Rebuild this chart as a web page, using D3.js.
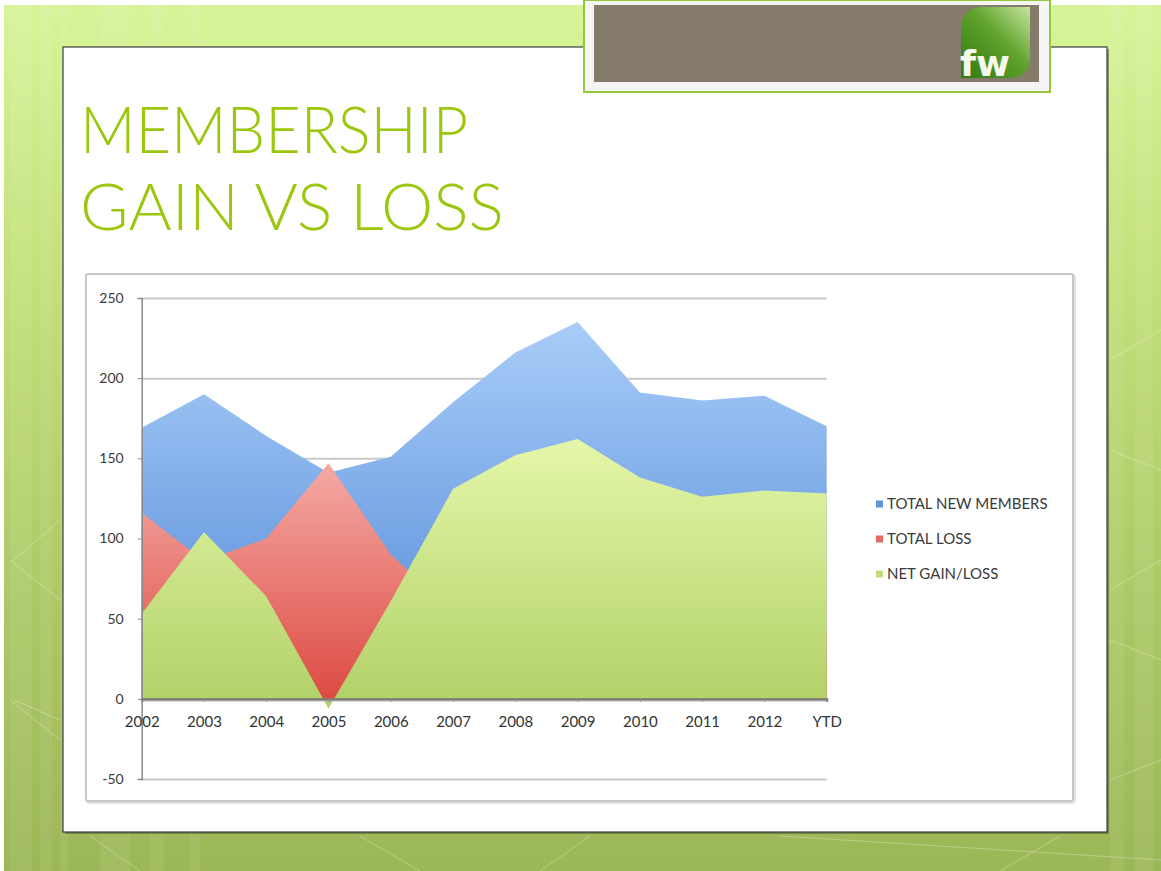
<!DOCTYPE html>
<html>
<head>
<meta charset="utf-8">
<script src="https://cdn.jsdelivr.net/npm/d3@7"></script>
<style>
body { margin: 0; background: #fff; }
svg { display: block; }
</style>
</head>
<body>
<svg width="1161" height="871"></svg>
<script>
// data
var years = ["2002", "2003", "2004", "2005", "2006", "2007", "2008", "2009", "2010", "2011", "2012", "YTD"];
var newMembers = [169, 190, 164, 141, 151, 185, 216, 235, 191, 186, 189, 170];
var totalLoss  = [116,  86, 100, 147,  90,  54,  64,  73,  53,  60,  59,  42];
var netGain    = [ 53, 104,  64,  -6,  61, 131, 152, 162, 138, 126, 130, 128];
var yTicks = [-50, 0, 50, 100, 150, 200, 250];
var seriesNames = ["TOTAL NEW MEMBERS", "TOTAL LOSS", "NET GAIN/LOSS"];

var svg = d3.select("svg");
var defs = svg.append("defs");

// ---- slide background ----
var bg = defs.append("linearGradient").attr("id", "bg")
    .attr("x1", 0).attr("y1", 0).attr("x2", 0).attr("y2", 1);
bg.append("stop").attr("offset", "0%").attr("stop-color", "#d7f499");
bg.append("stop").attr("offset", "30%").attr("stop-color", "#c4e17b");
bg.append("stop").attr("offset", "70%").attr("stop-color", "#acc866");
bg.append("stop").attr("offset", "100%").attr("stop-color", "#9cb757");

svg.append("rect").attr("x", 4).attr("y", 5).attr("width", 1157).attr("height", 866)
    .attr("fill", "url(#bg)");

// light vertical bands
[[10, 22], [40, 12], [60, 8], [100, 30], [150, 14], [190, 10], [1110, 14], [1135, 18]].forEach(function(b) {
  svg.append("rect").attr("x", b[0]).attr("y", 5).attr("width", b[1]).attr("height", 866)
      .attr("fill", "#fff").attr("opacity", 0.07);
});

// faint background lines
var bgLines = svg.append("g").attr("stroke", "#fff").attr("stroke-opacity", 0.3).attr("fill", "none");
[[1110, 360, 1161, 330], [1110, 450, 1161, 470], [1110, 590, 1161, 560], [1110, 640, 1161, 660],
 [1110, 780, 1161, 760], [60, 740, 10, 700], [60, 520, 14, 560], [10, 560, 60, 600],
 [14, 700, 60, 720], [360, 836, 420, 871], [540, 871, 590, 836], [780, 836, 1161, 860],
 [1000, 871, 1060, 836], [90, 836, 140, 871]].forEach(function(l) {
  bgLines.append("line").attr("x1", l[0]).attr("y1", l[1]).attr("x2", l[2]).attr("y2", l[3]);
});

// white slide box
svg.append("rect").attr("x", 65).attr("y", 49).attr("width", 1044).attr("height", 785)
    .attr("fill", "#55623a").attr("opacity", 0.6);
svg.append("rect").attr("x", 63).attr("y", 47).attr("width", 1044).attr("height", 785)
    .attr("fill", "#fff").attr("stroke", "#3c3c3c").attr("stroke-width", 1.2);

// logo box at top
svg.append("rect").attr("x", 584).attr("y", 0).attr("width", 466).attr("height", 92)
    .attr("fill", "#f5f5f5").attr("stroke", "#94c73a").attr("stroke-width", 2);
svg.append("rect").attr("x", 594).attr("y", 5).attr("width", 445).attr("height", 77)
    .attr("fill", "#857b6b");

var lg = defs.append("linearGradient").attr("id", "logo")
    .attr("x1", 0).attr("y1", 1).attr("x2", 1).attr("y2", 0);
lg.append("stop").attr("offset", "0%").attr("stop-color", "#2f7a12");
lg.append("stop").attr("offset", "55%").attr("stop-color", "#5fa22c");
lg.append("stop").attr("offset", "100%").attr("stop-color", "#c4e49c");

svg.append("path")
    .attr("d", "M961,30 Q961,7 984,7 L1030,7 L1030,56 Q1030,78 1008,78 L961,78 Z")
    .attr("fill", "url(#logo)");
svg.append("text").attr("x", 960).attr("y", 76)
    .style("font-family", "'DejaVu Sans', sans-serif").style("font-weight", "bold")
    .style("font-size", "36px").attr("fill", "#f4f8ee").attr("textLength", 50)
    .attr("lengthAdjust", "spacingAndGlyphs").text("fw");

// title
var title = svg.append("g")
    .style("font-family", "Lato, 'Open Sans', sans-serif").style("font-weight", 300)
    .style("font-size", "65px").attr("fill", "#9bc70f");
title.append("text").attr("x", 80).attr("y", 153).attr("textLength", 388)
    .attr("lengthAdjust", "spacingAndGlyphs").text("MEMBERSHIP");
title.append("text").attr("x", 80).attr("y", 230).attr("textLength", 424)
    .attr("lengthAdjust", "spacingAndGlyphs").text("GAIN VS LOSS");

// chart frame
svg.append("rect").attr("x", 87).attr("y", 275).attr("width", 988).attr("height", 528)
    .attr("rx", 2).attr("fill", "none").attr("stroke", "#e2e2e2").attr("stroke-width", 2);
svg.append("rect").attr("x", 86).attr("y", 274).attr("width", 987).attr("height", 527)
    .attr("rx", 2).attr("fill", "#fff").attr("stroke", "#c6c6c6").attr("stroke-width", 2);

// ---- chart ----
var x = d3.scalePoint().domain(years).range([141.7, 826.7]);
var y = d3.scaleLinear().domain([-50, 250]).range([779, 298]);

// gridlines
svg.append("g")
    .attr("transform", "translate(141.7,0)")
    .call(d3.axisLeft(y).tickValues(yTicks).tickSize(-685).tickFormat(""))
    .call(function(g) { g.select(".domain").remove(); })
    .call(function(g) { g.selectAll("line").attr("stroke", "#c8c8c8").attr("stroke-width", 2); });

function grad(id, top, bottom) {
  var g = defs.append("linearGradient").attr("id", id)
      .attr("x1", 0).attr("y1", 0).attr("x2", 0).attr("y2", 1);
  g.append("stop").attr("offset", "0%").attr("stop-color", top);
  g.append("stop").attr("offset", "100%").attr("stop-color", bottom);
}
grad("gBlue", "#a9cdf8", "#4f86d6");
grad("gRed", "#f5aaa5", "#dc4b43");
grad("gGreen", "#e4f7a9", "#b1d067");

var series = [
  {name: seriesNames[0], values: newMembers, fill: "url(#gBlue)", key: "#5f94dd"},
  {name: seriesNames[1], values: totalLoss, fill: "url(#gRed)", key: "#e56a63"},
  {name: seriesNames[2], values: netGain, fill: "url(#gGreen)", key: "#c3dd7c"}
];

var area = d3.area()
    .x(function(d, i) { return x(years[i]); })
    .y0(y(0))
    .y1(function(d) { return y(d); });

svg.append("g").selectAll("path")
    .data(series)
    .enter().append("path")
    .attr("d", function(s) { return area(s.values); })
    .attr("fill", function(s) { return s.fill; });

// value axis
svg.append("g")
    .attr("transform", "translate(141.7,0)")
    .call(d3.axisLeft(y).tickValues(yTicks).tickSize(4).tickPadding(14)
        .tickFormat(function(d) { return String(d); }))
    .call(function(g) {
      g.select(".domain").attr("stroke", "#8a8a8a").attr("stroke-width", 1.5);
      g.selectAll("line").attr("stroke", "#8a8a8a");
      g.selectAll("text").attr("fill", "#3a3a3a")
          .style("font-family", "Lato, sans-serif").style("font-size", "14px");
    });

// category axis on the zero line
svg.append("line").attr("x1", 141.7).attr("x2", 826.7).attr("y1", y(0) + 2).attr("y2", y(0) + 2)
    .attr("stroke", "#b9b9b9").attr("stroke-width", 2).attr("opacity", 0.7);
svg.append("g")
    .attr("transform", "translate(0," + y(0) + ")")
    .call(d3.axisBottom(x).tickSize(3).tickPadding(15))
    .call(function(g) {
      g.select(".domain").attr("stroke", "#7a7a7a").attr("stroke-width", 2.2);
      g.selectAll("line").attr("stroke", "#8a8a8a");
      g.selectAll("text").attr("fill", "#333")
          .style("font-family", "Lato, sans-serif").style("font-size", "15px");
    });

// legend
var legend = svg.append("g").selectAll("g")
    .data(series)
    .enter().append("g")
    .attr("transform", function(d, i) { return "translate(876," + (504 + i * 35) + ")"; });
legend.append("rect").attr("x", 0).attr("y", -3.5).attr("width", 7).attr("height", 7)
    .attr("fill", function(d) { return d.key; });
legend.append("text").attr("x", 11).attr("dy", "0.35em")
    .style("font-family", "Lato, sans-serif").style("font-size", "15px")
    .attr("fill", "#3a3a3a")
    .text(function(d) { return d.name; });
</script>
</body>
</html>
